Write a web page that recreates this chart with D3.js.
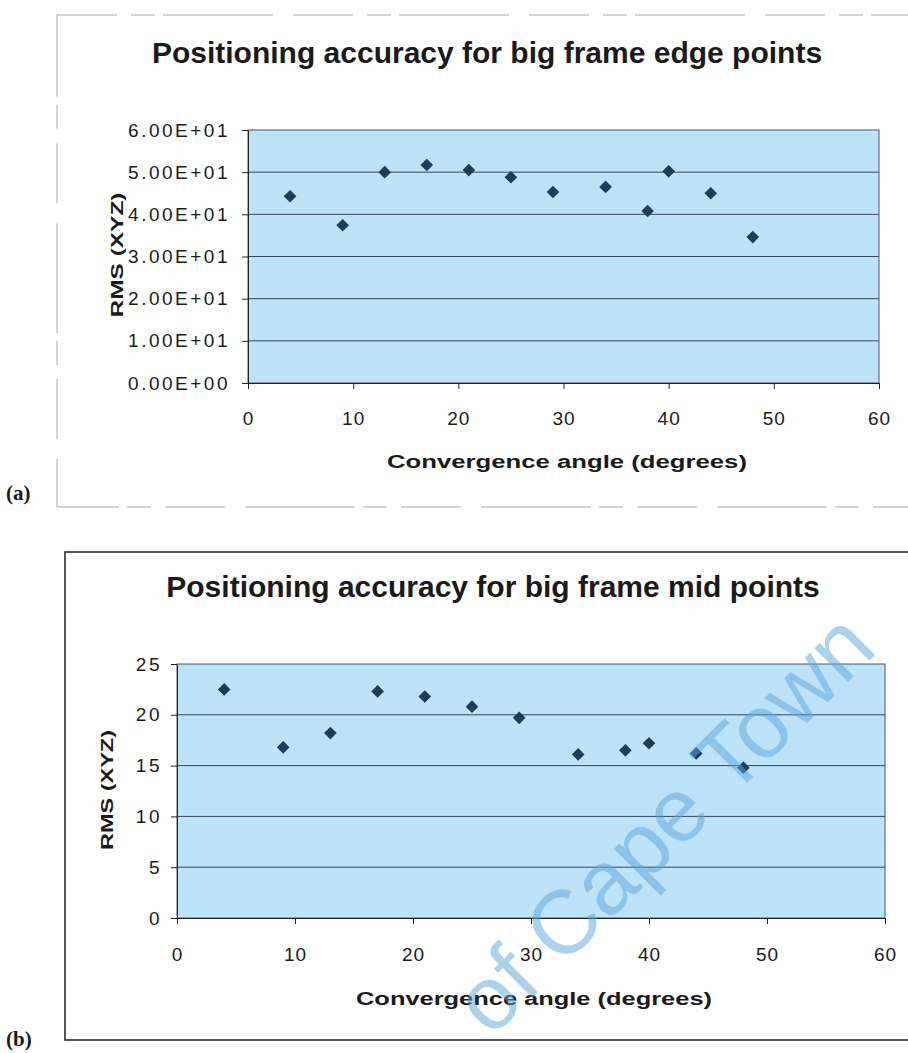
<!DOCTYPE html>
<html>
<head>
<meta charset="utf-8">
<script src="https://cdn.jsdelivr.net/npm/d3@7"></script>
<style>
  body { margin: 0; background: #fff; }
  svg { display: block; }
  text { font-family: "Liberation Sans", Arial, sans-serif; }
</style>
</head>
<body>
<svg id="chart"></svg>
<script>
// values
const angles = [4, 9, 13, 17, 21, 25, 29, 34, 38, 40, 44, 48];
const edgeRms = [44.3, 37.4, 50.0, 51.7, 50.5, 48.8, 45.3, 46.5, 40.8, 50.2, 45.0, 34.6];
const midRms = [22.5, 16.8, 18.2, 22.3, 21.8, 20.8, 19.7, 16.1, 16.5, 17.2, 16.2, 14.8];

const xTicks = [0, 10, 20, 30, 40, 50, 60];
const edgeTicks = [0, 10, 20, 30, 40, 50, 60];
const edgeTickLabels = ['0.00E+00', '1.00E+01', '2.00E+01', '3.00E+01', '4.00E+01', '5.00E+01', '6.00E+01'];
const midTicks = [0, 5, 10, 15, 20, 25];
const midTickLabels = ['0', '5', '10', '15', '20', '25'];

const width = 908;
const height = 1053;
const ink = '#1a1a1a';

const svg = d3.select('#chart')
  .attr('width', width)
  .attr('height', height);

svg.append('rect').attr('width', width).attr('height', height).attr('fill', '#fff');

// scanned page frames
svg.append('rect')
  .attr('x', 57).attr('y', 15).attr('width', 900).attr('height', 492)
  .attr('fill', 'none').attr('stroke', '#a8a8a8').attr('stroke-width', 1)
  .attr('stroke-dasharray', '60,14,24,8,110,20');

svg.append('rect')
  .attr('x', 65).attr('y', 552).attr('width', 900).attr('height', 488)
  .attr('fill', 'none').attr('stroke', '#2b2b2b').attr('stroke-width', 1.6);

function drawChart(opt) {
  const g = svg.append('g');

  const x = d3.scaleLinear().domain([0, 60]).range([opt.left, opt.right]);
  const y = d3.scaleLinear().domain([0, opt.yMax]).range([opt.bottom, opt.top]);

  g.append('text')
    .attr('x', opt.titleX)
    .attr('y', opt.titleY)
    .attr('text-anchor', 'middle')
    .style('font-size', '30px')
    .style('font-weight', 'bold')
    .style('fill', ink)
    .text(opt.title);

  // plot area
  g.append('rect')
    .attr('x', x(0)).attr('y', y(opt.yMax))
    .attr('width', x(60) - x(0)).attr('height', y(0) - y(opt.yMax))
    .attr('fill', '#bde3f8')
    .attr('stroke', '#4a5866').attr('stroke-width', 1);

  g.append('g').selectAll('line')
    .data(opt.yTicks.filter(function(d) { return d > 0 && d < opt.yMax; }))
    .enter()
    .append('line')
    .attr('x1', x(0)).attr('x2', x(60))
    .attr('y1', function(d) { return y(d); })
    .attr('y2', function(d) { return y(d); })
    .attr('stroke', '#34475a')
    .attr('stroke-width', 1);

  const xAxis = g.append('g')
    .attr('transform', 'translate(0,' + opt.bottom + ')')
    .call(d3.axisBottom(x).tickValues(xTicks).tickSize(6).tickSizeOuter(0).tickPadding(opt.xPad));
  xAxis.select('.domain').attr('stroke', '#222');
  xAxis.selectAll('.tick line').attr('stroke', '#222');
  xAxis.selectAll('text')
    .style('font-size', '19px')
    .style('letter-spacing', '1px')
    .style('font-family', '"Liberation Sans", Arial, sans-serif')
    .style('fill', ink);

  const yAxis = g.append('g')
    .attr('transform', 'translate(' + opt.left + ',0)')
    .call(d3.axisLeft(y).tickValues(opt.yTicks).tickSize(6).tickSizeOuter(0).tickPadding(opt.yPad)
      .tickFormat(function(d, i) { return opt.yLabels[i]; }));
  yAxis.select('.domain').attr('stroke', '#222');
  yAxis.selectAll('.tick line').attr('stroke', '#222');
  yAxis.selectAll('text')
    .style('font-size', '19px')
    .style('letter-spacing', '2.5px')
    .style('font-family', '"Liberation Sans", Arial, sans-serif')
    .style('fill', ink);

  g.append('text')
    .attr('x', opt.xTitleX)
    .attr('y', opt.xTitleY)
    .attr('text-anchor', 'middle')
    .attr('textLength', opt.xTitleLen)
    .attr('lengthAdjust', 'spacingAndGlyphs')
    .style('font-size', '18px')
    .style('font-weight', 'bold')
    .style('fill', ink)
    .text('Convergence angle (degrees)');

  g.append('text')
    .attr('transform', 'translate(' + opt.yTitleX + ',' + opt.yTitleY + ') rotate(-90)')
    .attr('text-anchor', 'middle')
    .attr('textLength', opt.yTitleLen)
    .attr('lengthAdjust', 'spacingAndGlyphs')
    .style('font-size', '17px')
    .style('font-weight', 'bold')
    .style('fill', ink)
    .text('RMS (XYZ)');

  const marker = d3.symbol().type(d3.symbolSquare).size(80);
  g.append('g').selectAll('path')
    .data(opt.values)
    .enter()
    .append('path')
    .attr('d', marker)
    .attr('transform', function(d, i) {
      return 'translate(' + x(angles[i]) + ',' + y(d) + ') rotate(45)';
    })
    .attr('fill', '#1d3c5c');

  g.append('text')
    .attr('x', 6)
    .attr('y', opt.tagY)
    .style('font-family', '"Liberation Serif", "Times New Roman", serif')
    .style('font-size', '21px')
    .style('font-weight', 'bold')
    .style('fill', ink)
    .text(opt.tag);
}

drawChart({
  title: 'Positioning accuracy for big frame edge points',
  titleX: 487, titleY: 63,
  left: 248, right: 879, top: 130, bottom: 383,
  yMax: 60, yTicks: edgeTicks, yLabels: edgeTickLabels,
  xPad: 23, yPad: 12,
  xTitleX: 567, xTitleY: 468, xTitleLen: 360,
  yTitleX: 123, yTitleY: 255, yTitleLen: 125,
  values: edgeRms,
  tag: '(a)', tagY: 500
});

drawChart({
  title: 'Positioning accuracy for big frame mid points',
  titleX: 493, titleY: 597,
  left: 177, right: 885, top: 664, bottom: 918,
  yMax: 25, yTicks: midTicks, yLabels: midTickLabels,
  xPad: 24, yPad: 9,
  xTitleX: 534, xTitleY: 1005, xTitleLen: 356,
  yTitleX: 113, yTitleY: 790, yTitleLen: 120,
  values: midRms,
  tag: '(b)', tagY: 1046
});

// library watermark on the scanned page
const mark = svg.append('g')
  .attr('transform', 'translate(562,968) rotate(-45)')
  .style('font-size', '90px')
  .style('fill', '#5aa6d8')
  .style('fill-opacity', 0.5);
mark.append('text').attr('x', 0).text('Cape Town');
mark.append('text').attr('x', -25).attr('text-anchor', 'end').text('of');
</script>
</body>
</html>
